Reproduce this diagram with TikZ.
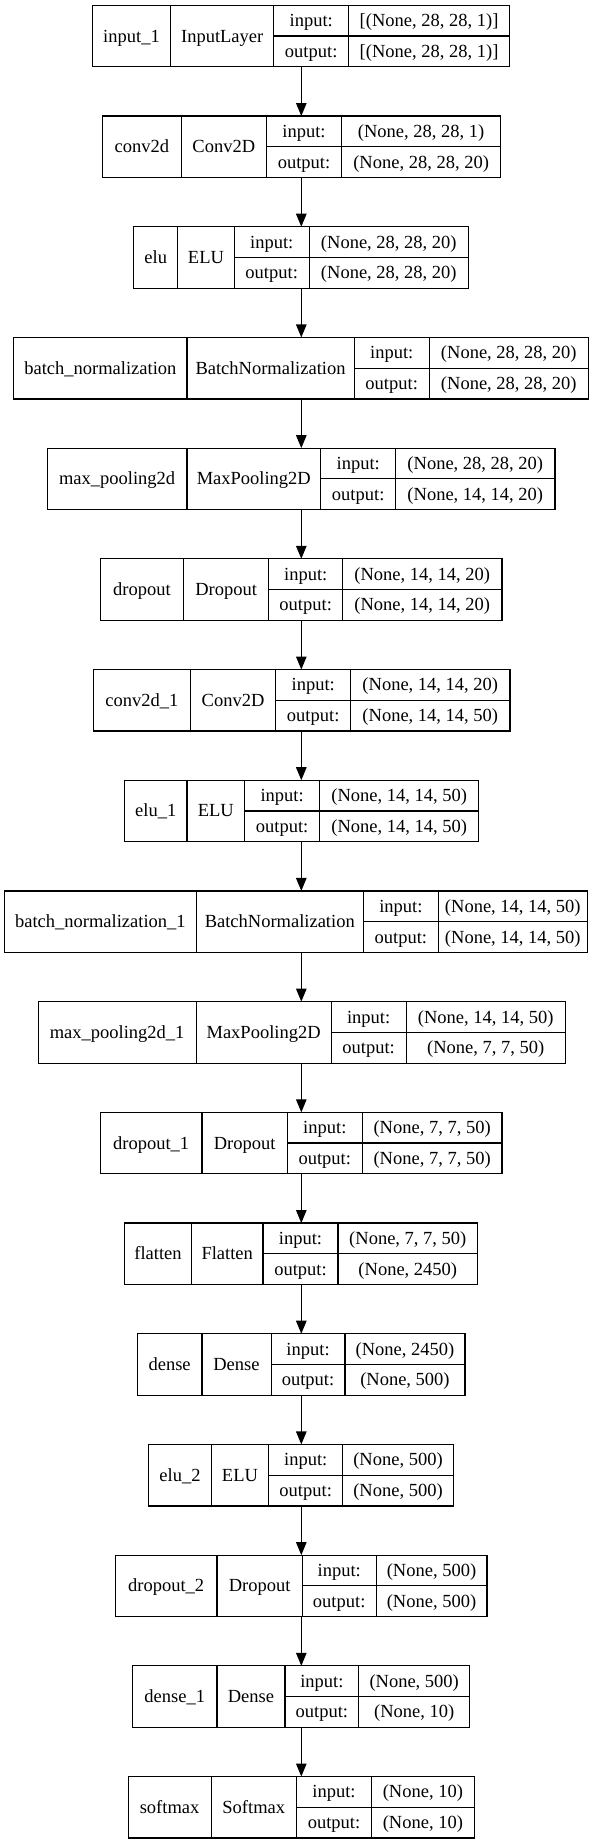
\documentclass[tikz,border=0pt]{standalone}
\usepackage{fontspec}
\setmainfont{Liberation Serif}
\usetikzlibrary{arrows.meta}
\tikzset{
  kbox/.style={draw=black, line width=1.2pt, inner sep=0pt, outer sep=0pt, fill=white},
  kline/.style={draw=black, line width=1.2pt},
  ktext/.style={inner sep=0pt, anchor=base, font=\fontsize{18.5}{22}\selectfont},
  karrow/.style={draw=black, line width=1.2pt, -{Triangle[length=13pt, width=10.5pt]}}
}
\newcommand\kio[2]{\def\kin{#1}\def\kout{#2}}
\newcommand\klayer[9]{%
  \pgfmathsetmacro\yt{5.3+110.7*#2}%
  \pgfmathsetmacro\yb{\yt+61.5}%
  \pgfmathsetmacro\ym{\yt+30.75}%
  \node[kbox, minimum width={#7pt-#3pt}, minimum height=61.5pt, anchor=north west] (#1) at (#3,\yt) {};
  \draw[kline] (#4,\yt) -- (#4,\yb) (#5,\yt) -- (#5,\yb) (#6,\yt) -- (#6,\yb) (#5,\ym) -- (#7,\ym);
  \node[ktext] (#1n) at ({(#3+#4)/2},{\ym+6}) {#8};
  \node[ktext] (#1c) at ({(#4+#5)/2},{\ym+6}) {#9};
  \node[ktext] (#1il) at ({(#5+#6)/2},{\yt+15.4+6}) {input:};
  \node[ktext] (#1ol) at ({(#5+#6)/2},{\ym+15.4+6}) {output:};
  \node[ktext] (#1iv) at ({(#6+#7)/2},{\yt+15.4+6}) {\kin};
  \node[ktext] (#1ov) at ({(#6+#7)/2},{\ym+15.4+6}) {\kout};
}
\begin{document}
\begin{tikzpicture}[x=1pt,y=-1pt]
\useasboundingbox[fill=white] (0,0) rectangle (603,1844);
\coordinate (ax) at (301.3,0);
\kio{[(None, 28, 28, 1)]}{[(None, 28, 28, 1)]}
\klayer{L0}{0}{92.3}{170.7}{273.7}{348.7}{509.5}{input\_1}{InputLayer}
\kio{(None, 28, 28, 1)}{(None, 28, 28, 20)}
\klayer{L1}{1}{102.7}{181.1}{266.5}{341.5}{500.7}{conv2d}{Conv2D}
\kio{(None, 28, 28, 20)}{(None, 28, 28, 20)}
\klayer{L2}{2}{133.8}{177.7}{234.2}{309.2}{468.4}{elu}{ELU}
\kio{(None, 28, 28, 20)}{(None, 28, 28, 20)}
\klayer{L3}{3}{13.8}{186.9}{354.2}{429.2}{588.4}{batch\_normalization}{BatchNormalization}
\kio{(None, 28, 28, 20)}{(None, 14, 14, 20)}
\klayer{L4}{4}{47.3}{186.9}{320.7}{395.7}{554.9}{max\_pooling2d}{MaxPooling2D}
\kio{(None, 14, 14, 20)}{(None, 14, 14, 20)}
\klayer{L5}{5}{100.4}{183.4}{268.8}{342.6}{501.9}{dropout}{Dropout}
\kio{(None, 14, 14, 20)}{(None, 14, 14, 50)}
\klayer{L6}{6}{93.5}{190.4}{275.7}{350.7}{509.9}{conv2d\_1}{Conv2D}
\kio{(None, 14, 14, 50)}{(None, 14, 14, 50)}
\klayer{L7}{7}{124.6}{186.9}{244.6}{319.6}{478.8}{elu\_1}{ELU}
\kio{(None, 14, 14, 50)}{(None, 14, 14, 50)}
\klayer{L8}{8}{4.6}{196.1}{363.4}{438.4}{587.2}{batch\_normalization\_1}{BatchNormalization}
\kio{(None, 14, 14, 50)}{(None, 7, 7, 50)}
\klayer{L9}{9}{38.1}{196.1}{331.1}{406.1}{565.3}{max\_pooling2d\_1}{MaxPooling2D}
\kio{(None, 7, 7, 50)}{(None, 7, 7, 50)}
\klayer{L10}{10}{100.4}{201.9}{287.3}{362.3}{501.9}{dropout\_1}{Dropout}
\kio{(None, 7, 7, 50)}{(None, 2450)}
\klayer{L11}{11}{124.6}{191.5}{263.0}{338.0}{477.6}{flatten}{Flatten}
\kio{(None, 2450)}{(None, 500)}
\klayer{L12}{12}{137.3}{201.9}{271.1}{345.0}{464.9}{dense}{Dense}
\kio{(None, 500)}{(None, 500)}
\klayer{L13}{13}{148.8}{211.1}{268.8}{342.6}{453.4}{elu\_2}{ELU}
\kio{(None, 500)}{(None, 500)}
\klayer{L14}{14}{115.4}{216.9}{302.3}{376.1}{486.9}{dropout\_2}{Dropout}
\kio{(None, 500)}{(None, 10)}
\klayer{L15}{15}{132.7}{216.9}{285.0}{358.8}{469.6}{dense\_1}{Dense}
\kio{(None, 10)}{(None, 10)}
\klayer{L16}{16}{128.1}{211.1}{296.5}{371.5}{474.2}{softmax}{Softmax}
\foreach \a/\b in {L0/L1,L1/L2,L2/L3,L3/L4,L4/L5,L5/L6,L6/L7,L7/L8,L8/L9,L9/L10,L10/L11,L11/L12,L12/L13,L13/L14,L14/L15,L15/L16}
  \draw[karrow] (\a.south -| ax) -- (\b.north -| ax);
\end{tikzpicture}
\end{document}
